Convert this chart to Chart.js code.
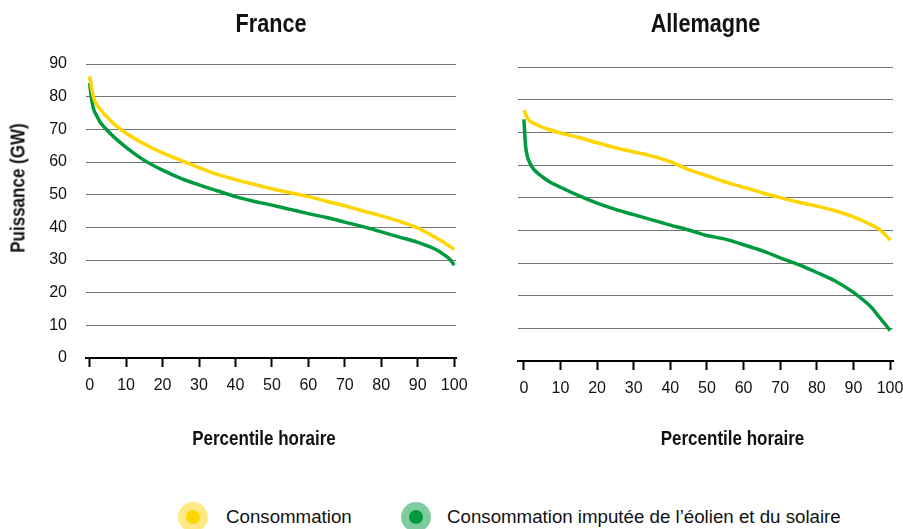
<!DOCTYPE html>
<html>
<head>
<meta charset="utf-8">
<script src="https://cdn.jsdelivr.net/npm/chart.js@4/dist/chart.umd.min.js"></script>
<style>
  html, body { margin:0; padding:0; background:#fff; overflow:hidden; width:903px; height:529px; }
  #leftWrap { position:absolute; left:0; top:0; width:490px; height:460px; }
  #rightWrap { position:absolute; left:470px; top:3px; width:460px; height:460px; }
  .ytitle { position:absolute; left:18px; top:188px; transform:translate(-50%,-50%) rotate(-90deg) scaleX(0.85);
    font: bold 20px 'Liberation Sans', Arial, sans-serif; white-space:nowrap; color:#111; }
  .lg-dot { position:absolute; width:14px; height:14px; border-radius:50%; }
  .lg-text { position:absolute; font: 18.7px 'Liberation Sans', Arial, sans-serif; color:#111; line-height:20px; white-space:nowrap; }
</style>
</head>
<body>
<div id="leftWrap"><canvas id="fr"></canvas></div>
<div id="rightWrap"><canvas id="de"></canvas></div>
<div class="ytitle">Puissance (GW)</div>
<div class="lg-dot" style="left:186px; top:510px; background:#FFD500; box-shadow:0 0 0 8px #FFE985;"></div>
<div class="lg-text" style="left:226px; top:507px;">Consommation</div>
<div class="lg-dot" style="left:409px; top:510px; background:#009A3E; box-shadow:0 0 0 8px #80CC9E;"></div>
<div class="lg-text" style="left:447px; top:507px;">Consommation imputée de l’éolien et du solaire</div>
<script>
// ---- Data ----
const percentiles = [0, 0.5, 1, 2, 3, 5, 7, 10, 15, 20, 25, 30, 35, 40, 45, 50, 55, 60, 65, 70, 75, 80, 85, 90, 95, 97, 99, 100];

const franceConsommation = [86.2, 83, 80, 77.5, 76, 73.5, 71.3, 68.8, 65.5, 62.8, 60.5, 58.3, 56.2, 54.6, 53.2, 51.8, 50.6, 49.4, 48, 46.6, 45, 43.5, 41.8, 39.8, 36.8, 35.5, 34, 33.2];
const franceImputee = [84.2, 79.5, 76.5, 74, 72, 69.5, 67.3, 64.5, 60.5, 57.5, 55, 53, 51.2, 49.4, 48, 46.8, 45.5, 44.2, 43, 41.6, 40.2, 38.6, 37, 35.4, 33.2, 31.8, 30, 28.4];

const allemagneConsommation = [76.8, 75.5, 74.3, 73.2, 72.6, 71.6, 70.8, 69.8, 68.4, 66.8, 65.3, 64, 62.7, 61, 58.6, 56.7, 54.8, 53.2, 51.5, 50, 48.6, 47.4, 46, 44.1, 41.6, 40.3, 38.3, 37];
const allemagneImputee = [74, 65.5, 62.5, 59.8, 58.3, 56.4, 54.9, 53.2, 50.6, 48.3, 46.4, 44.8, 43.2, 41.6, 40.1, 38.4, 37.3, 35.6, 33.8, 31.6, 29.5, 27.1, 24.5, 21, 16.3, 13.5, 10.8, 9.3];

const xTickValues = [0, 10, 20, 30, 40, 50, 60, 70, 80, 90, 100];
const yTickValues = [0, 10, 20, 30, 40, 50, 60, 70, 80, 90];

const seriesLabels = ['Consommation', 'Consommation imputée de l’éolien et du solaire'];
const xAxisTitle = 'Percentile horaire';

// ---- Styles ----
const YELLOW = '#FFD500';
const GREEN = '#009A3E';
const SANS = "'Liberation Sans', Arial, sans-serif";
const NARROW_SCALE = 0.85;

function pts(values) { return percentiles.map((p, i) => ({ x: p, y: values[i] })); }

// Draws condensed bold titles (chart title + x-axis title) as text.
const narrowTitles = {
  id: 'narrowTitles',
  afterDraw(chart, args, o) {
    const { ctx, chartArea: a } = chart;
    const cx = (a.left + a.right) / 2;
    const draw = (text, x, y, size) => {
      ctx.save();
      ctx.font = `bold ${size}px ${SANS}`;
      ctx.fillStyle = '#111';
      ctx.textAlign = 'center';
      ctx.textBaseline = 'middle';
      ctx.translate(x, y);
      ctx.scale(NARROW_SCALE, 1);
      ctx.fillText(text, 0, 0);
      ctx.restore();
    };
    draw(o.title, cx, o.titleY, 25.5);
    draw(xAxisTitle, cx + o.xTitleShift, o.xTitleY, 20);
  }
};

function makeChart(id, cfg, cons, imp) {
  return new Chart(document.getElementById(id), {
    type: 'line',
    data: {
      datasets: [
        { label: seriesLabels[0], data: pts(cons), borderColor: YELLOW, borderWidth: 3.5, pointRadius: 0, cubicInterpolationMode: 'monotone', fill: false },
        { label: seriesLabels[1], data: pts(imp), borderColor: GREEN, borderWidth: 3.5, pointRadius: 0, cubicInterpolationMode: 'monotone', fill: false }
      ]
    },
    plugins: [narrowTitles],
    options: {
      responsive: true, maintainAspectRatio: false, animation: false,
      layout: { padding: { top: 64, right: cfg.padRight, bottom: 0, left: 0 } },
      plugins: {
        legend: { display: false },
        tooltip: { enabled: false },
        title: { display: false },
        narrowTitles: { title: cfg.title, titleY: cfg.titleY, xTitleY: cfg.xTitleY, xTitleShift: cfg.xTitleShift }
      },
      scales: {
        x: {
          type: 'linear', min: cfg.xMin, max: cfg.xMax,
          afterBuildTicks: s => { s.ticks = xTickValues.map(v => ({ value: v })); },
          ticks: { color: '#111', font: { family: SANS, size: 16 }, padding: 9, maxRotation: 0, autoSkip: false },
          grid: { drawOnChartArea: false, drawTicks: true, tickLength: 9, tickWidth: 2, tickColor: '#000' },
          border: { display: true, color: '#000', width: 2 },
          afterFit: s => { s.height = 102; }
        },
        y: {
          min: 0, max: 90,
          afterBuildTicks: s => { s.ticks = yTickValues.map(v => ({ value: v })); },
          ticks: { display: cfg.showY, color: '#111', font: { family: SANS, size: 16 }, padding: 19 },
          grid: { color: c => (c.tick && c.tick.value === 0) ? 'rgba(0,0,0,0)' : '#737373', lineWidth: 1, drawTicks: false },
          border: { display: false },
          afterFit: s => { s.width = cfg.yWidth; }
        }
      }
    }
  });
}

makeChart('fr', { title: 'France', showY: true, yWidth: 86, padRight: 34, titleY: 25, xTitleY: 439, xTitleShift: -7, xMin: -1, xMax: 100.5 },
  franceConsommation, franceImputee);
makeChart('de', { title: 'Allemagne', showY: false, yWidth: 48, padRight: 37, titleY: 22, xTitleY: 436, xTitleShift: 27, xMin: -1.6, xMax: 100.8 },
  allemagneConsommation, allemagneImputee);
</script>
</body>
</html>
